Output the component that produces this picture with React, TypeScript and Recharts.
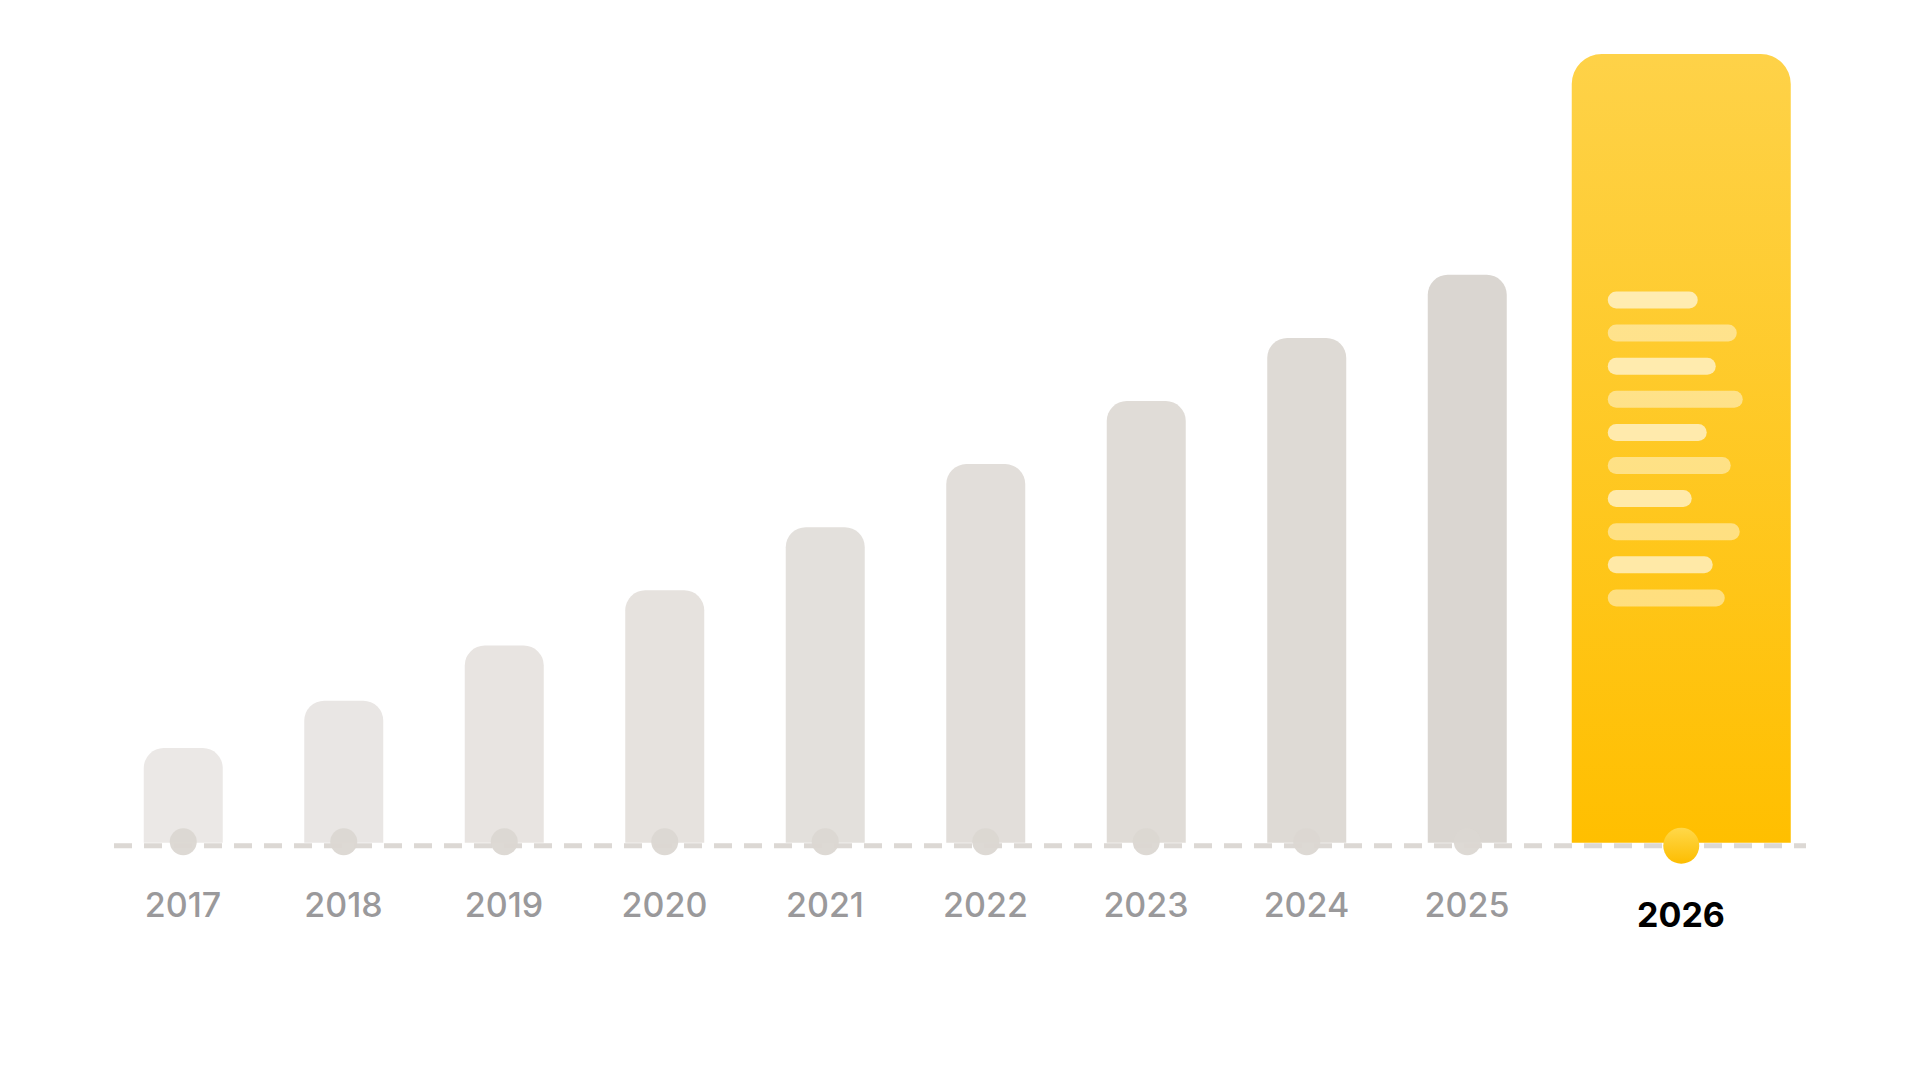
import { BarChart, Bar, XAxis, YAxis, ReferenceLine } from 'recharts'

const years = ['2017', '2018', '2019', '2020', '2021', '2022', '2023', '2024', '2025', '2026']
const values = [12, 18, 25, 32, 40, 48, 56, 64, 72, 100]
const barColors = ['#ebe8e6', '#e9e6e4', '#e8e4e1', '#e6e2de', '#e3e0dc', '#e2deda', '#e0dcd7', '#dedad5', '#dad6d1', '#ffc400']
// relative lengths of the placeholder text lines inside the highlighted bar
const noteLines = [90, 129, 108, 135, 99, 123, 84, 132, 105, 117]

const HIGHLIGHT = '2026'
const SHIFT = 53.5 // highlighted column sits a bit further right
const data = years.map((year, i) => ({ year, value: values[i], color: barColors[i] }))

function topRounded(x: number, y: number, w: number, h: number, r: number) {
    return `M${x},${y + h} L${x},${y + r} A${r},${r} 0 0 1 ${x + r},${y} L${x + w - r},${y} A${r},${r} 0 0 1 ${x + w},${y + r} L${x + w},${y + h} Z`
}

function BarShape(props: any) {
    const { x, y, width, height, payload } = props
    const bottom = y + height
    if (payload.year === HIGHLIGHT) {
        const w = 219
        const cx = x + width / 2 + SHIFT
        const left = cx - w / 2
        return (
            <g>
                <defs>
                    <linearGradient id="hiBar" x1="0" y1="0" x2="0" y2="1">
                        <stop offset="0%" stopColor="#fed248" />
                        <stop offset="100%" stopColor="#ffbf00" />
                    </linearGradient>
                    <linearGradient id="hiDot" x1="0" y1="0" x2="0" y2="1">
                        <stop offset="0%" stopColor="#ffd84a" />
                        <stop offset="100%" stopColor="#fdbd00" />
                    </linearGradient>
                </defs>
                <path d={topRounded(left, y, w, height, 30)} fill="url(#hiBar)" />
                {noteLines.map((len, i) => (
                    <rect key={i} x={left + 36} y={y + 237.5 + i * 33.1} width={len} height={17} rx={8.5}
                        fill="#ffffff" fillOpacity={i % 2 === 0 ? 0.62 : 0.45} />
                ))}
                <circle cx={cx} cy={bottom + 3} r={18} fill="url(#hiDot)" />
            </g>
        )
    }
    return (
        <g>
            <path d={topRounded(x, y, width, height, 20)} fill={payload.color} />
            <circle cx={x + width / 2} cy={bottom - 1} r={13.5} fill="#dbd7d2" fillOpacity={0.95} />
        </g>
    )
}

function YearTick(props: any) {
    const { x, y, payload } = props
    const hi = payload.value === HIGHLIGHT
    return (
        <text x={hi ? x + SHIFT : x} y={y + (hi ? 84 : 74.3)} textAnchor="middle"
            fontFamily="Inter, 'Noto Sans', sans-serif" fontSize={34}
            fontWeight={hi ? 700 : 500} fill={hi ? '#000000' : '#9a999b'}>
            {payload.value}
        </text>
    )
}

function DashLine(props: any) {
    const { x1, y1, x2 } = props
    return <line x1={x1 + 11.25} x2={x2 + 98.25} y1={y1 + 3} y2={y1 + 3} stroke="#dcd8d4" strokeWidth={5} strokeDasharray="18 12" />
}

export default function App() {
    return (
        <div style={{ position: 'absolute', left: 0, top: 0, width: 1920, height: 1080, background: '#fff' }}>
            <BarChart width={1920} height={1080} data={data}
                margin={{ top: 54, right: 212.25, bottom: 137.3, left: 102.75 }}>
                <YAxis hide domain={[0, 100]} />
                <XAxis dataKey="year" height={100} axisLine={false} tickLine={false} tickSize={0} tickMargin={0}
                    interval={0} tick={<YearTick />} />
                <ReferenceLine y={0} shape={<DashLine />} zIndex={250} />
                <Bar dataKey="value" barSize={79} shape={<BarShape />} isAnimationActive={false} />
            </BarChart>
        </div>
    )
}
